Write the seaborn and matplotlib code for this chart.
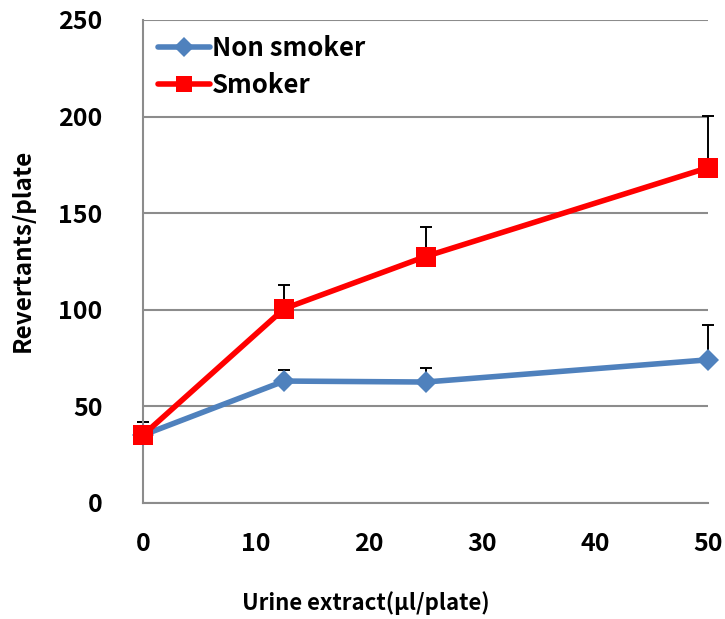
import matplotlib
matplotlib.use("Agg")
import matplotlib.pyplot as plt
import seaborn as sns
import pandas as pd
import numpy as np
from matplotlib.lines import Line2D

# Data
doses = [0, 12.5, 25, 50]
non_smoker = [35, 63, 62.5, 74]
non_smoker_err = [7, 5.5, 7.5, 18]
smoker = [35, 100.5, 127.5, 173.5]
smoker_err = [7, 12.5, 15.5, 27]
series_names = ["Non smoker", "Smoker"]
x_ticks = [0, 10, 20, 30, 40, 50]
y_ticks = [0, 50, 100, 150, 200, 250]

sns.set_theme(style="white")
plt.rcParams['font.family'] = ['Noto Sans CJK KR', 'DejaVu Sans']
plt.rcParams['font.weight'] = 'bold'
plt.rcParams['text.color'] = 'black'
plt.rcParams['xtick.labelcolor'] = 'black'
plt.rcParams['ytick.labelcolor'] = 'black'

df = pd.DataFrame({
    "dose": doses * 2,
    "value": non_smoker + smoker,
    "group": [series_names[0]] * len(doses) + [series_names[1]] * len(doses),
})

W, H = 725, 619
fig = plt.figure(figsize=(W / 100, H / 100), dpi=100)
ax = fig.add_axes([143 / W, (H - 502.7) / H, (708 - 143) / W, (502.7 - 20) / H])

colors = {"Non smoker": "#4F81BD", "Smoker": "#FF0000"}

# error bars (upper only)
for vals, errs in [(non_smoker, non_smoker_err), (smoker, smoker_err)]:
    _, caps, bars = ax.errorbar(doses, vals, yerr=[np.zeros(len(doses)), errs], fmt='none',
                                ecolor='black', elinewidth=1.4, capsize=4, capthick=1.4, zorder=2)
    for c in caps:
        c.set_clip_on(False)
    for b in bars:
        b.set_clip_on(False)

sns.lineplot(data=df, x="dose", y="value", hue="group", style="group",
             markers={"Non smoker": "D", "Smoker": "s"}, dashes=False,
             palette=colors, linewidth=4.0, markersize=13, markeredgewidth=0,
             ax=ax, zorder=3, legend=False)
for line in ax.lines:
    line.set_clip_on(False)
    if line.get_marker() == 'D':
        line.set_markersize(11.5)
    elif line.get_marker() == 's':
        line.set_markersize(14.5)

ax.set_xlim(0, 50)
ax.set_ylim(0, 250)
ax.set_xticks(x_ticks)
ax.set_yticks(y_ticks)
ax.set_xlabel("")
ax.set_ylabel("")
ax.yaxis.grid(True, color='#8c8c8c', linewidth=1.5)
ax.xaxis.grid(False)
ax.set_axisbelow(True)
for s in ['top', 'right']:
    ax.spines[s].set_visible(False)
for s in ['left', 'bottom']:
    ax.spines[s].set_color('#8c8c8c')
    ax.spines[s].set_linewidth(1.5)
ax.tick_params(axis='x', direction='in', length=6, width=1.5, color='#8c8c8c',
               pad=21, labelsize=18, labelcolor='black')
ax.tick_params(axis='y', direction='in', length=0, pad=29, labelsize=18, labelcolor='black')
for lab in ax.get_xticklabels() + ax.get_yticklabels():
    lab.set_fontweight('bold')

fig.text(366 / W, 1 - 603 / H, "Urine extract(μl/plate)", fontsize=16, fontweight='bold',
         ha='center', va='center', color='black')
fig.text(23 / W, 1 - 250 / H, "Revertants/plate", fontsize=17.5, fontweight='bold',
         ha='center', va='center', rotation=90, color='black')

handles = [Line2D([], [], color=colors["Non smoker"], marker='D', markersize=10, linewidth=4.0,
                  markeredgewidth=0),
           Line2D([], [], color=colors["Smoker"], marker='s', markersize=12, linewidth=4.0,
                  markeredgewidth=0)]
leg = ax.legend(handles, series_names, loc='upper left', bbox_to_anchor=(0.0, 1.0),
                frameon=False, prop={'size': 18.5, 'weight': 'bold'},
                handlelength=2.0, handletextpad=0.1, labelspacing=0.38, borderaxespad=0.2)
for t in leg.get_texts():
    t.set_color('black')

fig.savefig("out.png", dpi=100)
